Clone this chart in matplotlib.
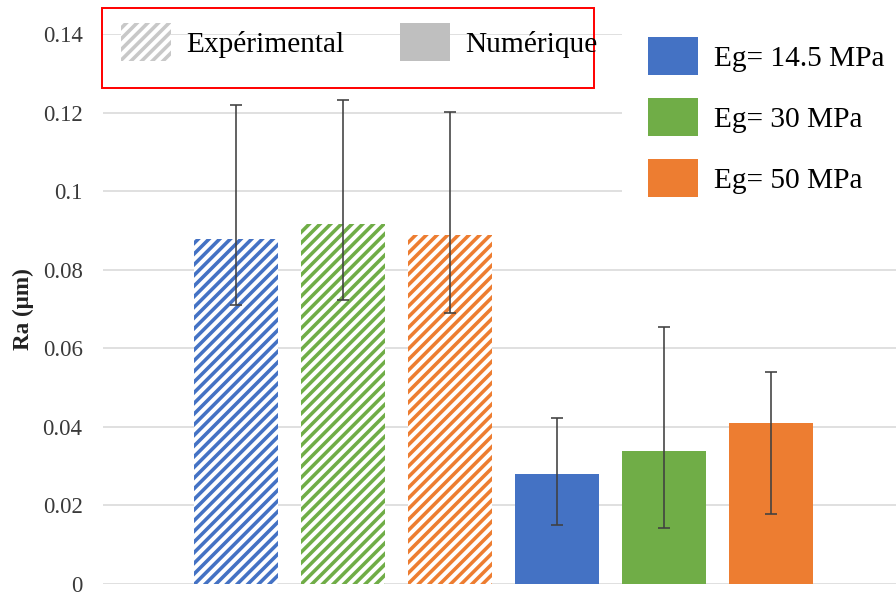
import matplotlib
matplotlib.use("Agg")
import matplotlib.pyplot as plt
from matplotlib.patches import Patch, Rectangle

# values (Ra in micrometres)
groups = ["Eg= 14.5 MPa", "Eg= 30 MPa", "Eg= 50 MPa"]
colors = ["#4472C4", "#70AD47", "#ED7D31"]

exp_vals = [0.0878, 0.0916, 0.0889]
exp_hi = [0.1219, 0.1232, 0.1202]
exp_lo = [0.0709, 0.0724, 0.0691]

num_vals = [0.0281, 0.0338, 0.0410]
num_hi = [0.0422, 0.0654, 0.0539]
num_lo = [0.0150, 0.0143, 0.0178]

yticks = [0, 0.02, 0.04, 0.06, 0.08, 0.1, 0.12, 0.14]
ytick_labels = ["0", "0.02", "0.04", "0.06", "0.08", "0.1", "0.12", "0.14"]

DPI = 128
W, H = 896, 592
plt.rcParams['font.family'] = ['Liberation Serif', 'DejaVu Serif']
plt.rcParams['hatch.linewidth'] = 2.0

fig = plt.figure(figsize=(W / DPI, H / DPI), dpi=DPI)
ax = fig.add_axes([103 / W, 8 / H, (W - 103) / W, 550 / H])

width = 0.785
err_kw = dict(ecolor="#404040", elinewidth=0.9, capsize=3.6, capthick=0.9)

for i in range(3):
    ax.bar(i, exp_vals[i], width, color="white", edgecolor=colors[i],
           hatch="////", linewidth=0, zorder=2)
    ax.errorbar(i, exp_vals[i],
                yerr=[[exp_vals[i] - exp_lo[i]], [exp_hi[i] - exp_vals[i]]],
                fmt="none", zorder=3, **err_kw)
    ax.bar(3 + i, num_vals[i], width, color=colors[i], linewidth=0, zorder=2)
    ax.errorbar(3 + i, num_vals[i],
                yerr=[[num_vals[i] - num_lo[i]], [num_hi[i] - num_vals[i]]],
                fmt="none", zorder=3, **err_kw)

ax.set_ylim(0, 0.14)
ax.set_xlim(-1.243, 6.168)
ax.set_yticks(yticks)
ax.set_yticklabels(ytick_labels)
ax.set_xticks([])
ax.tick_params(axis="y", length=0, pad=11.5, labelsize=12.8, labelcolor="#3a3a3a")
ax.yaxis.grid(True, color="#D9D9D9", linewidth=0.9, zorder=0)
ax.set_axisbelow(True)
for s in ax.spines.values():
    s.set_visible(False)

ax.set_ylabel("Ra (µm)", fontsize=13, fontweight="bold", color="#222222")
ax.yaxis.set_label_coords(-0.087, 0.5)

# legend for the type of result, inside a red box
rect = Rectangle((102 / W, 1 - 88 / H), (594 - 102) / W, 80 / H,
                 transform=fig.transFigure, fill=False, edgecolor="red",
                 linewidth=1.1, zorder=5)
fig.patches.append(rect)
type_handles = [
    Patch(facecolor="white", edgecolor="#C8C8C8", hatch="////", linewidth=0),
    Patch(facecolor="#BFBFBF", edgecolor="none"),
]
leg1 = fig.legend(type_handles, ["Expérimental", "Numérique"], ncol=2,
                  loc="upper left", bbox_to_anchor=(121 / W, 1 - 23 / H),
                  frameon=False, fontsize=16.5, borderpad=0, borderaxespad=0,
                  handlelength=1.7, handleheight=1.62, handletextpad=0.53,
                  columnspacing=1.9)

# legend for Eg values
eg_handles = [Patch(facecolor=c, edgecolor="none") for c in colors]
leg2 = fig.legend(eg_handles, groups, loc="upper left",
                  bbox_to_anchor=(622 / W, 1 - 11 / H), frameon=True,
                  facecolor="white", edgecolor="none", framealpha=1,
                  fancybox=False, fontsize=16.5, borderpad=0.9,
                  borderaxespad=0, handlelength=1.7, handleheight=1.62,
                  handletextpad=0.53, labelspacing=0.78)

fig.savefig("out.png", dpi=DPI)
